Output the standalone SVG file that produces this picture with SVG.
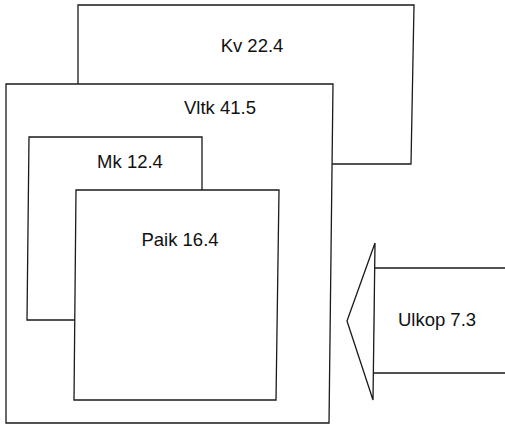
<svg xmlns="http://www.w3.org/2000/svg" width="505" height="425" viewBox="0 0 505 425">
<style>
.b{fill:#fff;stroke:#1a1a1a;stroke-width:1.3;stroke-linejoin:miter}
.t{font-family:"Liberation Sans",Arial,sans-serif;font-size:18.5px;fill:#111;text-anchor:middle}
</style>
<rect width="505" height="425" fill="#fff"/>
<g id="kv">
<polygon class="b" points="78,5 414,5 411,164 78,164"/>
<text class="t" x="252" y="52">Kv 22.4</text>
</g>
<g id="vltk">
<polygon class="b" points="6,84 333,84 329,423 6,423"/>
<text class="t" x="220" y="114">Vltk 41.5</text>
</g>
<g id="mk">
<polygon class="b" points="29,137 202,137 202,320 27,320"/>
<text class="t" x="130" y="168">Mk 12.4</text>
</g>
<g id="paik">
<polygon class="b" points="76,190 279,190 276,400 74,400"/>
<text class="t" x="180" y="246">Paik 16.4</text>
</g>
<g id="connectors">
<g id="ulkop">
<polygon class="b" points="374,268 506,268 506,373 373,373"/>
<polygon class="b" points="347,321 375,243 373,400"/>
<text class="t" x="437" y="326">Ulkop 7.3</text>
</g>
</g>
</svg>
